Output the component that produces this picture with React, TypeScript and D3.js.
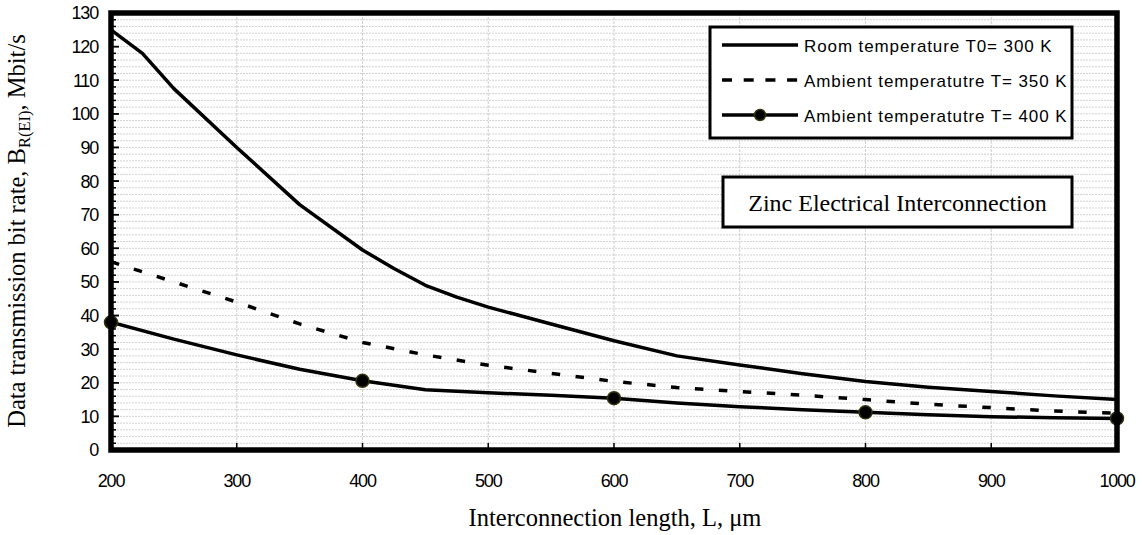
import React from "react";
import * as d3 from "d3";

// Interconnection length (µm) and bit rate (Mbit/s) for three temperatures
const roomLength = [200, 225, 250, 300, 350, 400, 425, 450, 475, 500, 550, 600, 650, 700, 750, 800, 850, 900, 950, 1000];
const roomRate = [125, 118, 107.5, 90, 73, 59.5, 54, 49, 45.5, 42.5, 37.5, 32.5, 28, 25.3, 22.7, 20.4, 18.7, 17.4, 16.1, 15];

const ambientLength = [200, 250, 300, 350, 400, 450, 500, 550, 600, 650, 700, 750, 800, 850, 900, 950, 1000];
const rate350 = [56, 50, 44, 37.5, 32, 28.3, 25.2, 22.8, 20.4, 18.6, 17.4, 16.3, 15, 13.6, 12.6, 11.6, 10.9];
const rate400 = [38, 33, 28.3, 24, 20.6, 17.9, 17, 16.3, 15.4, 14, 12.9, 12, 11.2, 10.5, 9.9, 9.6, 9.4];
const markerLengths = [200, 400, 600, 800, 1000];

const xTicks = [200, 300, 400, 500, 600, 700, 800, 900, 1000];
const yTicks = [0, 10, 20, 30, 40, 50, 60, 70, 80, 90, 100, 110, 120, 130];
const yGrid = d3.range(2, 130, 2);

const legendLabels = [
  "Room temperature T0= 300 K",
  "Ambient temperatutre T= 350 K",
  "Ambient temperatutre T= 400 K",
];

const W = 1142;
const H = 535;
const plot = { left: 111, right: 1117, top: 13, bottom: 450 };

const SANS = "'Liberation Sans', Arial, sans-serif";
const SERIF = "'Liberation Serif', 'Times New Roman', serif";

export default function App() {
  const x = d3.scaleLinear().domain([200, 1000]).range([plot.left, plot.right]);
  const y = d3.scaleLinear().domain([0, 130]).range([plot.bottom, plot.top]);

  const line = d3
    .line<[number, number]>()
    .x((d) => x(d[0]))
    .y((d) => y(d[1]))
    .curve(d3.curveLinear);

  const roomPts = roomLength.map((l, i) => [l, roomRate[i]] as [number, number]);
  const pts350 = ambientLength.map((l, i) => [l, rate350[i]] as [number, number]);
  const pts400 = ambientLength.map((l, i) => [l, rate400[i]] as [number, number]);
  const markers = pts400.filter((p) => markerLengths.includes(p[0]));

  const legendX0 = 722;
  const legendX1 = 798;
  const legendRows = [45, 80, 115];

  return (
    <svg
      width={W}
      height={H}
      style={{ position: "absolute", left: 0, top: 0, background: "#fff" }}
    >
      <defs>
        <clipPath id="plotClip">
          <rect x={plot.left} y={plot.top} width={plot.right - plot.left} height={plot.bottom - plot.top} />
        </clipPath>
      </defs>

      {/* gridlines */}
      <g>
        {yGrid.map((v) => (
          <line
            key={"hg" + v}
            x1={plot.left}
            x2={plot.right}
            y1={y(v)}
            y2={y(v)}
            stroke="#d2d2d2"
            strokeWidth={1}
            strokeDasharray="2 1"
          />
        ))}
        {xTicks.slice(1, -1).map((v) => (
          <line
            key={"vg" + v}
            x1={x(v)}
            x2={x(v)}
            y1={plot.top}
            y2={plot.bottom}
            stroke="#cfcfcf"
            strokeWidth={1}
            strokeDasharray="3 1"
          />
        ))}
      </g>

      {/* series */}
      <g clipPath="url(#plotClip)">
        <path d={line(roomPts) ?? ""} fill="none" stroke="#000" strokeWidth={3.5} strokeLinejoin="round" />
        <path
          d={line(pts350) ?? ""}
          fill="none"
          stroke="#000"
          strokeWidth={3.5}
          strokeDasharray="8.5 15.5"
        />
        <path d={line(pts400) ?? ""} fill="none" stroke="#000" strokeWidth={3.5} strokeLinejoin="round" />
      </g>
      {markers.map((p) => (
        <circle key={"m" + p[0]} cx={x(p[0])} cy={y(p[1])} r={6.5} fill="#000" stroke="#33330a" strokeWidth={1.5} />
      ))}

      {/* axis ticks (inside) */}
      <g stroke="#000" strokeWidth={1.5}>
        {yGrid.map((v) => (
          <line key={"mt" + v} x1={plot.left} x2={plot.left + (v % 10 === 0 ? 8 : 5)} y1={y(v)} y2={y(v)} />
        ))}
        {yTicks.map((v) => (
          <line key={"yt" + v} x1={plot.left} x2={plot.left + 8} y1={y(v)} y2={y(v)} />
        ))}
        {xTicks.map((v) => (
          <line key={"xt" + v} x1={x(v)} x2={x(v)} y1={plot.bottom} y2={plot.bottom - 7} />
        ))}
      </g>

      {/* frame */}
      <rect
        x={plot.left}
        y={plot.top}
        width={plot.right - plot.left}
        height={plot.bottom - plot.top}
        fill="none"
        stroke="#000"
        strokeWidth={5.5}
      />

      {/* tick labels */}
      <g fontFamily={SANS} fontSize={18} fill="#000" letterSpacing={-1.2}>
        {yTicks.map((v) => (
          <text key={"yl" + v} x={98} y={y(v)} dy="0.36em" textAnchor="end">
            {v}
          </text>
        ))}
        {xTicks.map((v) => (
          <text key={"xl" + v} x={x(v)} y={487} textAnchor="middle">
            {v}
          </text>
        ))}
      </g>

      {/* axis titles */}
      <text x={615} y={526} textAnchor="middle" fontFamily={SERIF} fontSize={24.5} fill="#000">
        Interconnection length, L, μm
      </text>
      <text
        transform="translate(25,231) rotate(-90)"
        textAnchor="middle"
        fontFamily={SERIF}
        fontSize={24.5}
        fill="#000"
      >
        Data transmission bit rate, B
        <tspan fontSize={16.5} dy={4.5}>R(EI)</tspan>
        <tspan dy={-4.5}>, Mbit/s</tspan>
      </text>

      {/* legend */}
      <rect x={710} y={27} width={362} height={111} fill="#fff" stroke="#000" strokeWidth={3} />
      <line x1={legendX0} x2={legendX1} y1={legendRows[0]} y2={legendRows[0]} stroke="#000" strokeWidth={3.5} />
      <line
        x1={legendX0}
        x2={legendX1}
        y1={legendRows[1]}
        y2={legendRows[1]}
        stroke="#000"
        strokeWidth={3.5}
        strokeDasharray="10 11.7"
      />
      <line x1={legendX0} x2={legendX1} y1={legendRows[2]} y2={legendRows[2]} stroke="#000" strokeWidth={3.5} />
      <circle cx={(legendX0 + legendX1) / 2} cy={legendRows[2]} r={5.5} fill="#000" stroke="#33330a" strokeWidth={1.5} />
      <g fontFamily={SANS} fontSize={17} fill="#000" letterSpacing={0.9}>
        {legendLabels.map((t, i) => (
          <text key={t} x={804} y={legendRows[i] + 7}>
            {t}
          </text>
        ))}
      </g>

      {/* material label */}
      <rect x={723} y={177} width={349} height={50} fill="#fff" stroke="#000" strokeWidth={3} />
      <text x={897.5} y={211} textAnchor="middle" fontFamily={SERIF} fontSize={24} fill="#000">
        Zinc Electrical Interconnection
      </text>
    </svg>
  );
}
